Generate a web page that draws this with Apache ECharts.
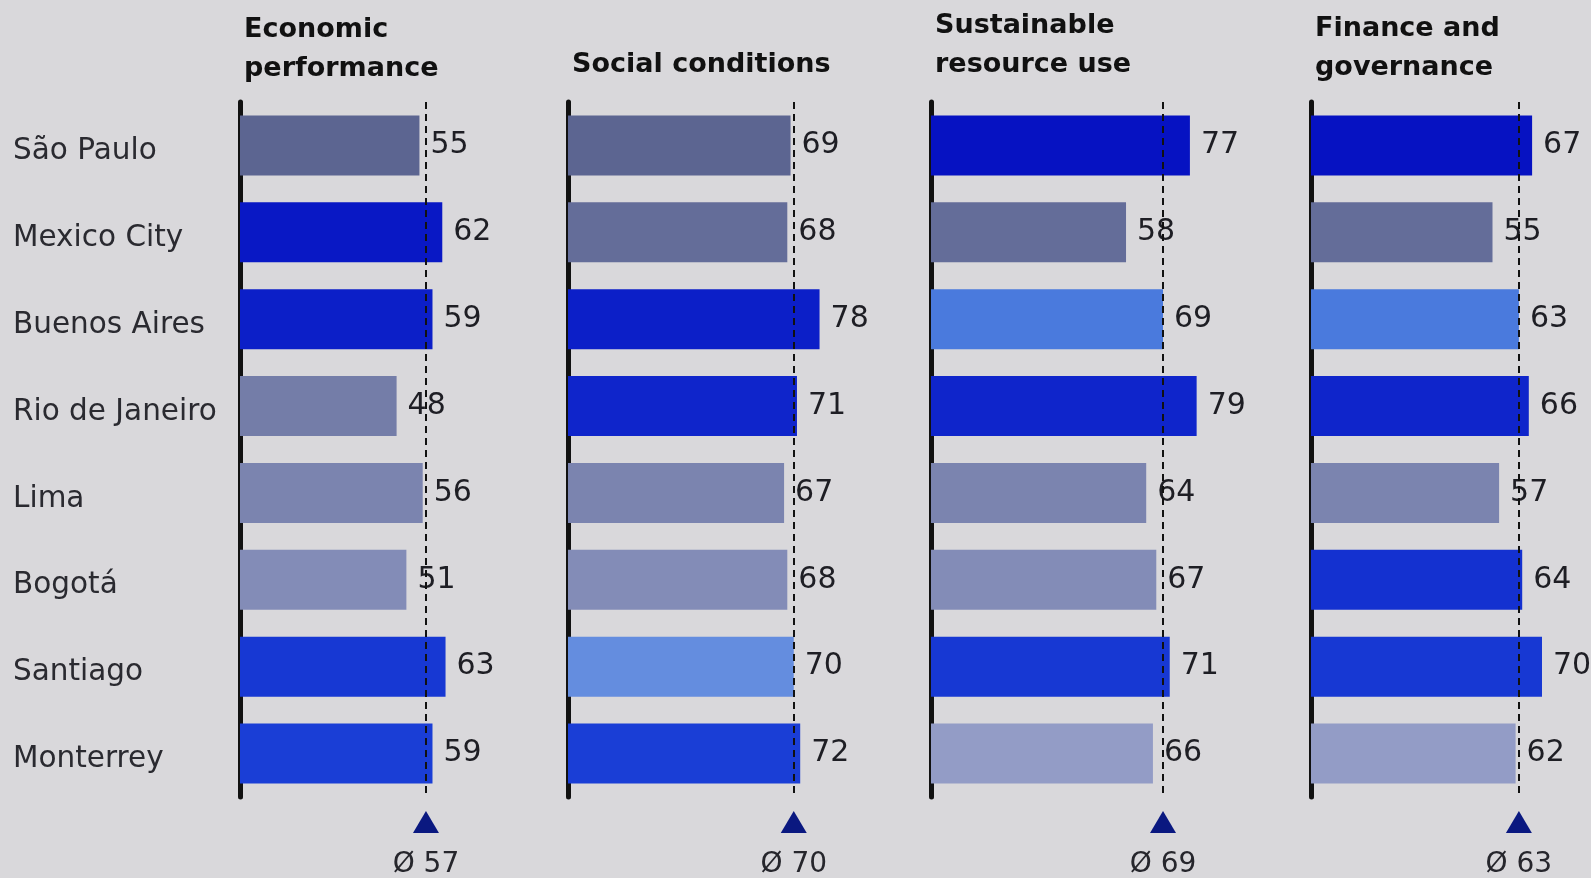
<!DOCTYPE html>
<html>
<head>
<meta charset="utf-8">
<script src="https://cdn.jsdelivr.net/npm/echarts@6/dist/echarts.min.js"></script>
<style>
html,body{margin:0;padding:0;background:#d9d8db;}
#chart{width:1591px;height:878px;}
</style>
</head>
<body>
<div id="chart"></div>
<script>
// ---- data ----
const categories = ['São Paulo', 'Mexico City', 'Buenos Aires', 'Rio de Janeiro', 'Lima', 'Bogotá', 'Santiago', 'Monterrey'];
const panelTitles = ['Economic\nperformance', 'Social conditions', 'Sustainable\nresource use', 'Finance and\ngovernance'];
const economicPerformance = [55, 62, 59, 48, 56, 51, 63, 59];
const socialConditions = [69, 68, 78, 71, 67, 68, 70, 72];
const sustainableResourceUse = [77, 58, 69, 79, 64, 67, 71, 66];
const financeGovernance = [67, 55, 63, 66, 57, 64, 70, 62];
const averages = [57, 70, 69, 63];
const avgPrefix = 'Ø ';

// ---- layout / style ----
const panelValues = [economicPerformance, socialConditions, sustainableResourceUse, financeGovernance];
const AXIS_MAX = 80;
const lefts = [240, 568, 931, 1311];
const widths = [261, 258, 269, 264];
const titleTops = [5, 40, 1, 4];
const FONT = 'DejaVu Sans';

function mix(c1, c2, t) {
  const a = c1.match(/\w\w/g).map(h => parseInt(h, 16));
  const b = c2.match(/\w\w/g).map(h => parseInt(h, 16));
  return '#' + a.map((v, i) => Math.round(v + (b[i] - v) * t).toString(16).padStart(2, '0')).join('');
}
function barColor(v, avg, idx) {
  const t = idx / (categories.length - 1);
  if (v > avg) return mix('0612c2', '1a3ed6', t);
  if (v === avg) return mix('3d70dc', '6a92e0', t);
  return mix('5c6591', '939cc6', t);
}

const grid = [], xAxis = [], yAxis = [], series = [], title = [];
panelValues.forEach((vals, p) => {
  const avg = averages[p];
  grid.push({ left: lefts[p], width: widths[p], top: 102, height: 695 });
  grid.push({ left: lefts[p], width: widths[p], top: 810, height: 24 });
  xAxis.push({ gridIndex: 2 * p, type: 'value', min: 0, max: AXIS_MAX, show: false });
  xAxis.push({ gridIndex: 2 * p + 1, type: 'value', min: 0, max: AXIS_MAX, show: false });
  yAxis.push({
    gridIndex: 2 * p, type: 'category', data: categories, inverse: true,
    axisLine: { show: true, lineStyle: { color: '#111', width: 5 } },
    axisTick: { show: false },
    axisLabel: p === 0 ? {
      show: true, align: 'left', margin: 227, fontFamily: FONT, fontSize: 29.5, color: '#2a2a30',
      verticalAlign: 'top', lineHeight: 12
    } : { show: false }
  });
  yAxis.push({ gridIndex: 2 * p + 1, type: 'value', min: -1, max: 1, show: false });
  series.push({
    type: 'bar', xAxisIndex: 2 * p, yAxisIndex: 2 * p,
    barCategoryGap: '31%',
    data: vals.map((v, i) => ({ value: v, itemStyle: { color: barColor(v, avg, i) } })),
    label: { show: true, position: 'right', distance: 11, fontFamily: FONT, fontSize: 30, color: '#1e1e24' },
    markLine: {
      silent: true, symbol: 'none',
      label: { show: false },
      lineStyle: { color: '#111', type: [7, 5], width: 2 },
      data: [{ xAxis: avg }]
    },
    z: 2
  });
  series.push({
    type: 'scatter', xAxisIndex: 2 * p + 1, yAxisIndex: 2 * p + 1,
    symbol: 'triangle', symbolSize: [26, 22],
    itemStyle: { color: '#0a1880', opacity: 1 },
    data: [[avg, 0]],
    label: {
      show: true, position: 'bottom', distance: 18,
      formatter: () => avgPrefix + avg,
      fontFamily: FONT, fontSize: 28, color: '#26262c'
    }
  });
  title.push({
    text: panelTitles[p], left: lefts[p] - 1, top: titleTops[p],
    textStyle: { fontFamily: FONT, fontSize: 27, fontWeight: 'bold', color: '#111', lineHeight: 39 }
  });
});

const chart = echarts.init(document.getElementById('chart'), null, { renderer: 'canvas' });
chart.setOption({
  backgroundColor: '#d9d8db',
  animation: false,
  title, grid, xAxis, yAxis, series
});
</script>
</body>
</html>
